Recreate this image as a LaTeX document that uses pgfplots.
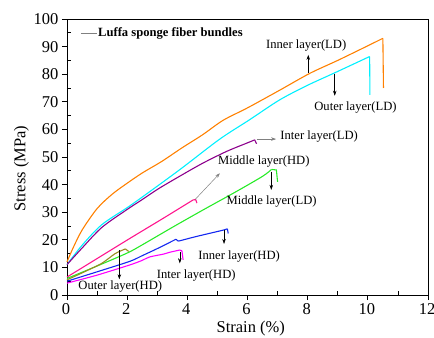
\documentclass[border=0pt]{standalone}
\usepackage{fontspec}
\setmainfont{Liberation Serif}
\usepackage{pgfplots}
\pgfplotsset{compat=1.18}
\usetikzlibrary{arrows.meta}
\definecolor{corange}{RGB}{255,128,0}
\definecolor{ccyan}{RGB}{0,240,255}
\definecolor{cpurple}{RGB}{140,0,140}
\definecolor{cmid}{RGB}{255,20,140}
\definecolor{cgreen}{RGB}{40,235,40}
\definecolor{cblue}{RGB}{20,40,240}
\definecolor{cpink}{RGB}{255,0,255}
\definecolor{colive}{RGB}{150,140,30}
\begin{document}
\begin{tikzpicture}
\begin{axis}[
  scale only axis, width=361bp, height=276bp,
  xmin=0, xmax=12, ymin=0, ymax=100,
  xtick={0,2,...,12}, ytick={0,10,...,100},
  minor x tick num=1, minor y tick num=1,
  xtick pos=left, ytick pos=left,
  tick align=outside,
  major tick length=5bp, minor tick length=3.5bp,
  minor x tick style={yshift=3.5bp}, minor y tick style={xshift=3.5bp},
  axis line style={line width=0.8pt},
  tick style={line width=0.8pt, black},
  /pgf/number format/assume math mode=true,
  ticklabel style={font=\fontsize{16.5bp}{18bp}\selectfont},
  xticklabel style={xshift=-1bp},
  xlabel={Strain (\%)}, ylabel={Stress (MPa)},
  label style={font=\fontsize{16.5bp}{18bp}\selectfont},
  xlabel style={at={(axis description cs:0.509,-0.12)}, anchor=center},
  ylabel style={at={(axis description cs:-0.126,0.458)}, anchor=center},
  every axis plot/.append style={line width=1.1pt, no markers},
  clip=false,
]
% Inner layer (LD)
\addplot[corange, smooth, tension=0.5] coordinates {(0,12) (0.2,17) (0.5,23.5) (1.0,31.3) (1.5,36.5) (2.0,40.5) (2.5,44.2) (3.15,48.4) (3.82,53.3) (4.5,58) (5.19,63.3) (6,67.8) (7.07,74.2) (8.07,80.3) (9,85) (10,90.3) (10.5,93)};
\addplot[corange] coordinates {(10.5,93) (10.52,75)};
% Outer layer (LD)
\addplot[ccyan, smooth, tension=0.5] coordinates {(0,11) (0.5,18) (1.16,25.5) (2.05,32) (2.82,38) (3.82,46) (5.08,56.5) (6.07,63.5) (7.07,70.7) (8,76) (8.9,80.5) (10.06,86.4)};
\addplot[ccyan] coordinates {(10.06,86.4) (10.07,72.5)};
% Inter layer (LD)
\addplot[cpurple, smooth, tension=0.5] coordinates {(0,11) (0.5,17) (1.16,24.5) (2,31) (2.49,34.5) (3.04,38.5) (3.82,43.5) (4.52,47.8) (5.3,52) (5.97,55) (6.24,56.2)};
\addplot[cpurple] coordinates {(6.24,56.2) (6.3,54.8)};
% Middle layer (HD)
\addplot[cmid, smooth, tension=0.5] coordinates {(0,6.5) (1,13.2) (2.09,20.5) (3.2,27.8) (4.2,34.5)};
\addplot[cmid] coordinates {(4.2,34.5) (4.28,34.5) (4.32,33.3)};
% Middle layer (LD)
\addplot[cgreen, smooth, tension=0.5] coordinates {(0,6) (1,10.5) (2,15.2) (2.49,18.1) (3.5,24.5) (4.52,30.8) (5.63,37.5) (6.5,43) (6.8,45.5)};
\addplot[cgreen] coordinates {(6.8,45.5) (6.96,45.3) (7.0,41)};
% Inner layer (HD)
\addplot[cblue, smooth, tension=0.4] coordinates {(0,5) (1,8.4) (2.09,12.2) (2.49,14.2) (3,16.8) (3.55,19.8) (3.62,20.2)};
\addplot[cblue] coordinates {(3.62,20.2) (3.7,19.5)};
\addplot[cblue, smooth, tension=0.4] coordinates {(3.7,19.5) (4.3,21.2) (5.19,23.5) (5.33,24)};
\addplot[cblue] coordinates {(5.33,24) (5.36,22.3)};
% Inter layer (HD)
\addplot[cpink, smooth, tension=0.4] coordinates {(0,4.3) (1,7.2) (2.09,10.9) (2.49,12.5) (2.75,13.8) (3.2,14.8) (3.42,15.5) (3.75,16.3)};
\addplot[cpink] coordinates {(3.75,16.3) (3.82,16) (3.86,12.7)};
% Outer layer (HD)
\addplot[colive, smooth, tension=0.4] coordinates {(0,5.5) (0.5,8) (1.16,11.5) (1.6,15) (1.94,16.7)};
\addplot[colive] coordinates {(1.94,16.7) (2.05,15.8)};

% legend
\draw[gray, line width=0.6pt] (axis cs:0.46,94.7) -- (axis cs:1.0,94.7);
\node[anchor=west, inner sep=0pt, font=\fontsize{12.6bp}{14bp}\selectfont\bfseries] at (axis cs:1.03,94.7) {Luffa sponge fiber bundles};

\tikzset{ann/.style={anchor=center, inner sep=0pt, font=\fontsize{12.6bp}{14bp}\selectfont},
  arr/.style={line width=0.5pt, -{Stealth[length=5bp,width=3.5bp]}}}
\node[ann] at (axis cs:7.95,90.3) {Inner layer(LD)};
\draw[arr] (axis cs:8.02,80.5) -- (axis cs:8.02,87);
\node[ann] at (axis cs:9.59,67.9) {Outer layer(LD)};
\draw[arr] (axis cs:8.9,80.2) -- (axis cs:8.9,72.2);
\node[ann, anchor=west] at (axis cs:7.09,57.4) {Inter layer(LD)};
\draw[arr, gray] (axis cs:6.3,56.5) -- (axis cs:6.95,56.5);
\node[ann, anchor=west] at (axis cs:5.02,48.3) {Middle layer(HD)};
\draw[arr, gray] (axis cs:4.25,34.5) -- (axis cs:5.08,44.1);
\node[ann, anchor=west] at (axis cs:5.3,33.8) {Middle layer(LD)};
\draw[arr] (axis cs:6.79,44.7) -- (axis cs:6.79,38.1);
\node[ann, anchor=west] at (axis cs:4.36,13.9) {Inner layer(HD)};
\draw[arr] (axis cs:5.22,23.6) -- (axis cs:5.22,18.5);
\node[ann, anchor=west] at (axis cs:2.98,7.25) {Inter layer(HD)};
\draw[arr] (axis cs:3.75,15.7) -- (axis cs:3.75,11.5);
\node[ann, anchor=west] at (axis cs:0.375,3.0) {Outer layer(HD)};
\draw[arr] (axis cs:1.74,16.3) -- (axis cs:1.74,5.7);
\end{axis}
\pgfresetboundingbox
\useasboundingbox (-67bp,-43bp) rectangle (367bp,295bp);
\end{tikzpicture}
\end{document}
